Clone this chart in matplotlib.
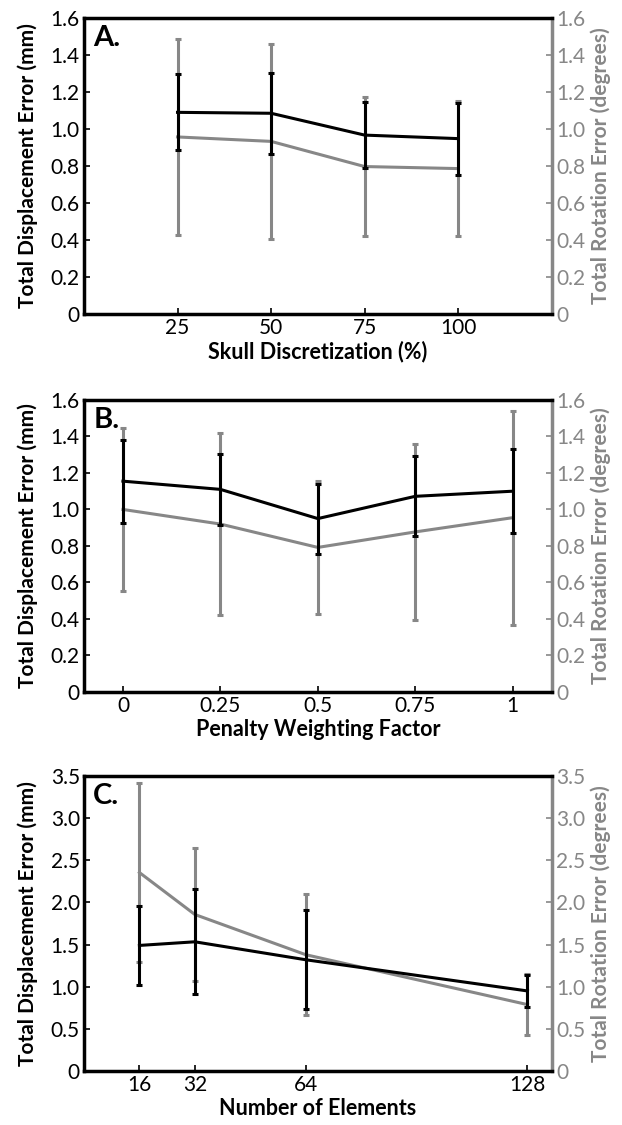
import numpy as np
import matplotlib
matplotlib.use("Agg")
import matplotlib.pyplot as plt
from matplotlib.ticker import FuncFormatter

plt.rcParams["font.family"] = ["Lato", "DejaVu Sans"]

GRAY = "#878787"

# panel A: skull discretization
skull_x = [25, 50, 75, 100]
skull_disp = [1.09, 1.085, 0.967, 0.948]
skull_disp_err = [0.205, 0.218, 0.18, 0.195]
skull_rot = [0.957, 0.933, 0.797, 0.786]
skull_rot_err = [0.53, 0.528, 0.377, 0.363]

# panel B: penalty weighting factor
penalty_x = [0, 0.25, 0.5, 0.75, 1]
penalty_disp = [1.155, 1.11, 0.95, 1.072, 1.1]
penalty_disp_err = [0.228, 0.195, 0.192, 0.219, 0.23]
penalty_rot = [1.0, 0.92, 0.792, 0.877, 0.955]
penalty_rot_err = [0.444, 0.50, 0.364, 0.483, 0.587]

# panel C: number of elements
elem_x = [16, 32, 64, 128]
elem_disp = [1.49, 1.533, 1.32, 0.95]
elem_disp_err = [0.465, 0.625, 0.585, 0.193]
elem_rot = [2.355, 1.857, 1.38, 0.788]
elem_rot_err = [1.06, 0.79, 0.72, 0.36]

panels = [
    dict(letter="A.", x=skull_x, d=skull_disp, de=skull_disp_err, r=skull_rot, re=skull_rot_err,
         xlabel="Skull Discretization (%)", xlim=(0, 125), ylim=(0, 1.6), step=0.2,
         xticks=skull_x, xticklabels=["25", "50", "75", "100"],
         rect=[0.135, 0.7209, 0.752, 0.2631]),
    dict(letter="B.", x=penalty_x, d=penalty_disp, de=penalty_disp_err, r=penalty_rot, re=penalty_rot_err,
         xlabel="Penalty Weighting Factor", xlim=(-0.1, 1.1), ylim=(0, 1.6), step=0.2,
         xticks=penalty_x, xticklabels=["0", "0.25", "0.5", "0.75", "1"],
         rect=[0.135, 0.3849, 0.752, 0.2596]),
    dict(letter="C.", x=elem_x, d=elem_disp, de=elem_disp_err, r=elem_rot, re=elem_rot_err,
         xlabel="Number of Elements", xlim=(0, 135), ylim=(0, 3.5), step=0.5,
         xticks=elem_x, xticklabels=["16", "32", "64", "128"],
         rect=[0.135, 0.048, 0.752, 0.2622]),
]

fmt = FuncFormatter(lambda v, p: "0" if abs(v) < 1e-9 else f"{v:.1f}")

fig = plt.figure(figsize=(6.22, 11.25), dpi=100)

for p in panels:
    ax = fig.add_axes(p["rect"])
    tw = ax.twinx()
    ax.set_zorder(tw.get_zorder() + 1)
    ax.patch.set_visible(False)

    tw.errorbar(p["x"], p["r"], yerr=p["re"], color=GRAY, lw=2.2, elinewidth=2.2,
                capsize=2.5, capthick=2.2)
    ax.errorbar(p["x"], p["d"], yerr=p["de"], color="black", lw=2.2, elinewidth=2.2,
                capsize=2.5, capthick=2.2)

    yt = np.arange(0, p["ylim"][1] + 1e-9, p["step"])
    for a in (ax, tw):
        a.set_xlim(*p["xlim"])
        a.set_ylim(*p["ylim"])
        a.set_yticks(yt)
        a.yaxis.set_major_formatter(fmt)
    ax.set_xticks(p["xticks"])
    ax.set_xticklabels(p["xticklabels"])

    ax.tick_params(axis="both", direction="in", length=4, width=1.2, labelsize=15,
                   colors="black", pad=3)
    tw.tick_params(axis="y", direction="in", length=4, width=1.2, labelsize=15,
                   colors=GRAY, labelcolor=GRAY, pad=3)
    for s in ("left", "bottom", "top"):
        ax.spines[s].set_linewidth(2.5)
        ax.spines[s].set_color("black")
    ax.spines["right"].set_visible(False)
    for s in ("left", "bottom", "top"):
        tw.spines[s].set_visible(False)
    tw.spines["right"].set_linewidth(2.5)
    tw.spines["right"].set_color(GRAY)

    ax.set_xlabel(p["xlabel"], fontsize=15.5, fontweight="bold", labelpad=2)
    ax.set_ylabel("Total Displacement Error (mm)", fontsize=15, fontweight="bold", labelpad=9)
    tw.set_ylabel("Total Rotation Error (degrees)", fontsize=15, fontweight="bold",
                  color=GRAY, labelpad=4)
    ax.text(0.02, 0.975, p["letter"], transform=ax.transAxes, fontsize=21,
            fontweight="bold", va="top", ha="left")

fig.savefig("out.png", dpi=100)
